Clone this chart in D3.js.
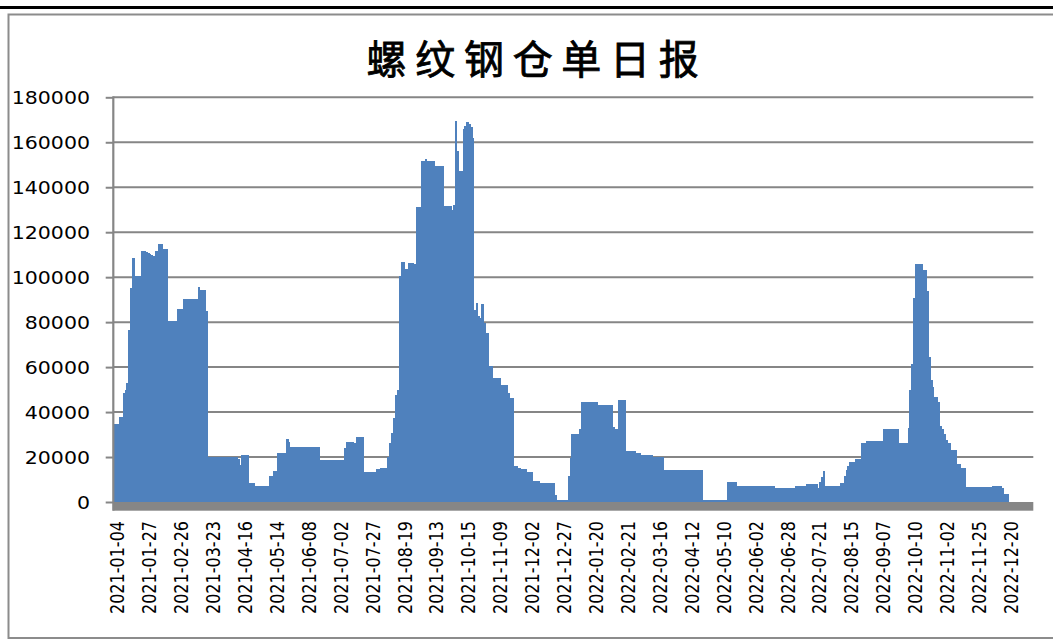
<!DOCTYPE html>
<html>
<head>
<meta charset="utf-8">
<script src="https://cdn.jsdelivr.net/npm/d3@7"></script>
<style>
  html, body { margin: 0; padding: 0; background: #fff; }
  svg { display: block; }
</style>
</head>
<body>
<svg id="chart" width="1053" height="640"></svg>
<script>
const title = "螺纹钢仓单日报";

// Exchange holidays (weekdays without trading) used to build the trading-day categories
const holidays = ["2021-01-01","2021-02-11","2021-02-12","2021-02-15","2021-02-16","2021-02-17",
  "2021-04-05","2021-05-03","2021-05-04","2021-05-05","2021-06-14","2021-09-20","2021-09-21",
  "2021-10-01","2021-10-04","2021-10-05","2021-10-06","2021-10-07",
  "2022-01-03","2022-01-31","2022-02-01","2022-02-02","2022-02-03","2022-02-04",
  "2022-04-04","2022-04-05","2022-05-02","2022-05-03","2022-05-04","2022-06-03","2022-09-12",
  "2022-10-03","2022-10-04","2022-10-05","2022-10-06","2022-10-07","2023-01-02"];

// Daily rebar warehouse receipts (tonnes), one per trading day from 2021-01-04
const values = [
  34500,34500,34500,38000,38000,48300,49800,52800,76500,95000,
  108600,100500,100500,100500,100500,111600,111600,111000,110800,110500,
  109800,109500,111600,111600,114700,114700,112500,112500,112500,80600,
  80600,80600,80600,80600,85700,85700,85700,90300,90300,90300,
  90300,90300,90300,90300,90300,95500,94100,94100,94100,84900,
  19800,19800,19800,19800,19800,19800,19800,19800,19800,19800,
  19800,19800,19800,19800,19800,19800,19300,16500,20800,20800,
  20800,20800,8600,8600,8600,7100,7100,7100,7100,7100,
  7100,7100,7100,11700,11700,13800,13800,21600,21600,21600,
  21600,21600,27800,26500,24600,24600,24600,24600,24600,24600,
  24600,24600,24600,24600,24600,24600,24600,24600,24600,24600,
  18700,18700,18700,18700,18700,18700,18700,18700,18700,18700,
  18700,18700,18700,23900,26800,26800,26800,26800,26100,29000,
  29000,29000,29000,13200,13200,13200,13200,13200,13200,13200,
  14500,14500,15300,15300,15300,15300,20100,26100,30500,37200,
  47600,49900,100500,106700,106700,103700,103700,106400,106400,106400,
  105700,131000,131000,131000,151800,151800,152500,151500,151500,151500,
  151500,149500,149500,149500,149500,149500,131700,131700,131700,131700,
  129900,132000,169600,156200,147300,147300,165900,167100,169200,168200,
  166700,161800,85600,88600,82600,82000,88100,79600,75200,75200,
  60300,60300,55100,55100,55100,55100,52100,52100,52100,52100,
  48400,46200,46200,15900,15900,15300,15300,14500,14500,14500,
  13400,13400,13400,9400,9400,9400,9400,8500,8500,8500,
  8500,8500,8500,8500,8500,3000,1000,1000,1000,1000,
  1000,1000,11500,19400,30200,30200,30200,30200,32300,44500,
  44500,44500,44500,44500,44500,44500,44500,44500,43200,43200,
  43200,43200,43200,43200,43200,43200,33500,32300,32300,45200,
  45200,45200,45200,22500,22500,22500,22500,22500,21600,21600,
  21600,20700,20700,20700,20700,20700,20700,19800,19800,19800,
  19800,19800,19800,14200,14200,14200,14200,14200,14200,14200,
  14200,14200,14200,14200,14200,14200,14200,14200,14200,14200,
  14200,14200,14200,14200,1000,1000,1000,1000,1000,1000,
  1000,1000,1000,1000,1000,1000,1000,8700,8700,8700,
  8700,8700,7000,7000,7000,7000,7000,7000,7000,7000,
  7000,7000,7000,7000,7000,7000,7000,7000,7000,7000,
  7000,7000,6400,6400,6400,6400,6400,6400,6400,6400,
  6400,6400,6400,7100,7100,7100,7100,7100,7100,7900,
  7900,7900,7900,7900,7900,6400,8900,10900,13800,7000,
  7000,7000,7000,7000,7000,7000,7000,8500,8500,11500,
  14200,15900,17700,17700,17700,19200,19200,19200,26300,26300,
  26300,27000,27000,27000,27000,27000,27000,27000,27000,27000,
  32300,32300,32300,32300,32300,32300,32300,32300,26300,26300,
  26300,26300,26300,33000,49900,61500,90800,106000,106000,106000,
  106000,103400,103400,93700,64700,54300,51100,46900,46900,44600,
  33800,32300,30200,27500,26100,26100,23100,23100,23100,16800,
  16800,15300,15300,15300,6700,6700,6700,6700,6700,6700,
  6700,6700,6700,6700,6700,6700,6700,6700,7000,7000,
  7000,7000,7000,6200,3700,3700,3700,0,0,0,
  0,0,0,0,0,0,0,0,0,0
];

const yTicks = [0,20000,40000,60000,80000,100000,120000,140000,160000,180000];

const tickLabels = ["2021-01-04","2021-01-27","2021-02-26","2021-03-23","2021-04-16","2021-05-14",
  "2021-06-08","2021-07-02","2021-07-27","2021-08-19","2021-09-13","2021-10-15","2021-11-09",
  "2021-12-02","2021-12-27","2022-01-20","2022-02-21","2022-03-16","2022-04-12","2022-05-10",
  "2022-06-02","2022-06-28","2022-07-21","2022-08-15","2022-09-07","2022-10-10","2022-11-02",
  "2022-11-25","2022-12-20"];

// Build trading-day category list
const fmt = d3.utcFormat("%Y-%m-%d");
const holidaySet = new Set(holidays);
const dates = [];
for (let d = new Date(Date.UTC(2021,0,4)); dates.length < values.length; d = d3.utcDay.offset(d, 1)) {
  const wd = d.getUTCDay();
  const s = fmt(d);
  if (wd === 0 || wd === 6 || holidaySet.has(s)) continue;
  dates.push(s);
}
const data = dates.map((d, i) => ({date: d, value: values[i]}));

const svg = d3.select("#chart");
const W = 1053, H = 640;
const plotL = 113.3, plotR = 1033.3;

svg.append("rect").attr("width", W).attr("height", H).attr("fill", "#fff");

// outer frame lines
svg.append("rect").attr("x", 0).attr("y", 6).attr("width", W).attr("height", 3).attr("fill", "#000");
svg.append("rect").attr("x", 8.5).attr("y", 14.5).attr("width", 1060).attr("height", 623.5)
  .attr("fill", "none").attr("stroke", "#8c8c8c").attr("stroke-width", 2);

const x = d3.scaleBand().domain(dates).range([plotL, plotR]).padding(0);
const y = d3.scaleLinear().domain([0, 180000]).range([502, 97.3]);

// gridlines
svg.append("g").selectAll("line").data(yTicks.slice(1)).join("line")
  .attr("x1", plotL).attr("x2", plotR)
  .attr("y1", d => y(d)).attr("y2", d => y(d))
  .attr("stroke", "#868686").attr("stroke-width", 2);

// bars
svg.append("g").attr("shape-rendering", "crispEdges")
  .selectAll("rect").data(data.filter(d => d.value > 0)).join("rect")
  .attr("x", d => x(d.date))
  .attr("width", x.bandwidth() + 0.6)
  .attr("y", d => y(d.value))
  .attr("height", d => y(0) - y(d.value))
  .attr("fill", "#4F81BD");

// floor strip
svg.append("rect").attr("x", plotL).attr("y", y(0)).attr("width", plotR - plotL).attr("height", 8.7)
  .attr("fill", "#868686");

// y axis
const yAxis = svg.append("g").attr("transform", `translate(${plotL},0)`)
  .call(d3.axisLeft(y).tickValues(yTicks).tickSize(7.6).tickSizeOuter(0).tickPadding(15.7).tickFormat(d3.format("d")));
yAxis.select(".domain").remove();
yAxis.selectAll(".tick line").attr("stroke", "#868686").attr("stroke-width", 2);
yAxis.selectAll(".tick text")
  .attr("dy", "0.36em")
  .attr("fill", "#000")
  .style("font-family", "'DejaVu Sans', sans-serif")
  .style("font-size", "18.3px")
  .attr("textLength", d => 13.05 * String(d).length)
  .attr("lengthAdjust", "spacingAndGlyphs");
svg.append("line").attr("x1", plotL).attr("x2", plotL).attr("y1", y(180000) - 1).attr("y2", y(0) + 8.7)
  .attr("stroke", "#868686").attr("stroke-width", 2.2);

// x axis
const xAxis = svg.append("g").attr("transform", "translate(0,521)")
  .call(d3.axisBottom(x).tickValues(tickLabels).tickSize(0).tickSizeOuter(0));
xAxis.select(".domain").remove();
xAxis.selectAll(".tick text")
  .attr("transform", "rotate(-90)")
  .attr("x", 0)
  .attr("y", 2.8)
  .attr("dy", "0.36em")
  .attr("text-anchor", "end")
  .attr("fill", "#000")
  .style("font-family", "'DejaVu Sans', sans-serif")
  .style("font-size", "20px")
  .attr("textLength", 93)
  .attr("lengthAdjust", "spacingAndGlyphs");

// title
svg.append("text").attr("x", 537).attr("y", 74)
  .attr("text-anchor", "middle")
  .style("font-family", "'Noto Sans CJK SC', sans-serif")
  .style("font-size", "40px")
  .style("letter-spacing", "8.7px")
  .attr("fill", "#000")
  .attr("stroke", "#000")
  .attr("stroke-width", 0.8)
  .text(title);
</script>
</body>
</html>
